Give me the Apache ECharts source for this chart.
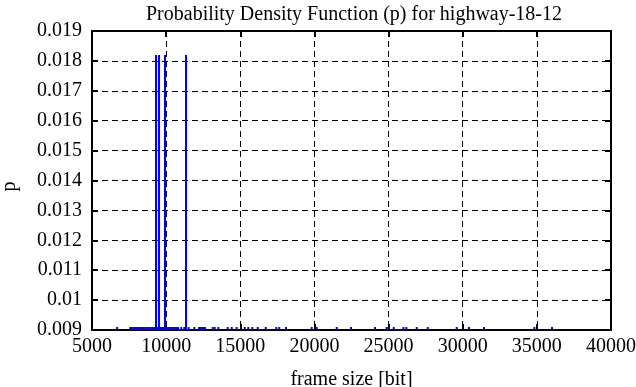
<!DOCTYPE html>
<html>
<head>
<meta charset="utf-8">
<script src="https://cdn.jsdelivr.net/npm/echarts@6/dist/echarts.min.js"></script>
<style>
html,body{margin:0;padding:0;background:#fff;}
#chart{width:636px;height:387px;}
</style>
</head>
<body>
<div id="chart"></div>
<script>
// Frame sizes [bit] with their probability (impulses)
const frameSize = [
  6700,
  7580, 7690, 7810, 7900, 8020, 8130, 8240, 8350, 8440, 8560, 8670, 8760, 8880, 8990,
  9100, 9210, 9316, 9420, 9518, 9630, 9720, 9810, 9923, 10040, 10150, 10260, 10370,
  10480, 10590, 10690, 10800,
  11020, 11225, 11339, 11520, 11900, 12216, 12351, 12486, 12621, 13140, 13275, 13518,
  14152, 14422, 14759, 15298, 15541, 15811, 16175, 16715, 17430, 17632, 18083,
  19817, 20154, 21503, 22467, 24086, 24870, 24990, 25347, 26000, 26200, 26898,
  27640, 29596, 30425, 31437, 34830, 36023
];
const probability = [
  0.0091,
  0.0091, 0.0091, 0.0091, 0.0091, 0.0091, 0.0091, 0.0091, 0.0091, 0.0091, 0.0091, 0.0091, 0.0091, 0.0091, 0.0091,
  0.0091, 0.0091, 0.0182, 0.0091, 0.0182, 0.0091, 0.0091, 0.0091, 0.0182, 0.0091, 0.0091, 0.0091, 0.0091,
  0.0091, 0.0091, 0.0091, 0.0091,
  0.0091, 0.0091, 0.0182, 0.0091, 0.0091, 0.0091, 0.0091, 0.0091, 0.0091, 0.0091, 0.0091, 0.0091,
  0.0091, 0.0091, 0.0091, 0.0091, 0.0091, 0.0091, 0.0091, 0.0091, 0.0091, 0.0091, 0.0091,
  0.0091, 0.0091, 0.0091, 0.0091, 0.0091, 0.0091, 0.0091, 0.0091, 0.0091, 0.0091, 0.0091,
  0.0091, 0.0091, 0.0091, 0.0091, 0.0091, 0.0091
];
const xTicks = {min: 5000, max: 40000, interval: 5000};
const yTicks = {min: 0.009, max: 0.019, interval: 0.001};

const FONT = 'Liberation Serif';
const FS = 20;
const chart = echarts.init(document.getElementById('chart'));
const tickStyle = {show: true, inside: true, length: 6, lineStyle: {color: '#000', width: 2}};
const lineAxis = {show: true, lineStyle: {color: '#000', width: 2}};

chart.setOption({
  animation: false,
  title: {
    text: 'Probability Density Function (p) for highway-18-12',
    left: 349, textAlign: 'center', top: 0,
    textStyle: {fontFamily: FONT, fontSize: FS, fontWeight: 'normal', color: '#000'}
  },
  grid: {left: 92, right: 25, top: 31, bottom: 57, containLabel: false, outerBoundsMode: 'none'},
  xAxis: [{
    type: 'value', min: xTicks.min, max: xTicks.max, interval: xTicks.interval,
    name: 'frame size [bit]', nameLocation: 'middle', nameGap: 40,
    nameTextStyle: {fontFamily: FONT, fontSize: FS, color: '#000'},
    axisLine: lineAxis, axisTick: tickStyle,
    axisLabel: {fontFamily: FONT, fontSize: FS, color: '#000', margin: 7, formatter: v => String(v)},
    splitLine: {show: true, lineStyle: {type: [6, 4], color: '#000', width: 1}}
  }, {
    type: 'value', position: 'top', min: xTicks.min, max: xTicks.max, interval: xTicks.interval,
    axisLine: lineAxis, axisTick: tickStyle, axisLabel: {show: false}, splitLine: {show: false}
  }],
  yAxis: [{
    type: 'value', min: yTicks.min, max: yTicks.max, interval: yTicks.interval,
    name: 'p', nameLocation: 'middle', nameGap: 72, nameRotate: 90,
    nameTextStyle: {fontFamily: FONT, fontSize: FS, color: '#000', padding: [0, 12, 0, 0]},
    axisLine: lineAxis, axisTick: tickStyle,
    axisLabel: {fontFamily: FONT, fontSize: FS, color: '#000', margin: 10, padding: [6, 0, 0, 0],
      formatter: v => String(parseFloat(v.toFixed(4)))},
    splitLine: {show: true, lineStyle: {type: [6, 4], color: '#000', width: 1}}
  }, {
    type: 'value', position: 'right', min: yTicks.min, max: yTicks.max, interval: yTicks.interval,
    axisLine: lineAxis, axisTick: tickStyle, axisLabel: {show: false}, splitLine: {show: false}
  }],
  series: [{
    type: 'bar',
    xAxisIndex: 0, yAxisIndex: 0,
    barWidth: 2,
    itemStyle: {color: '#0000ff'},
    data: frameSize.map((f, i) => [f, probability[i]]),
    z: 3
  }]
});
</script>
</body>
</html>
